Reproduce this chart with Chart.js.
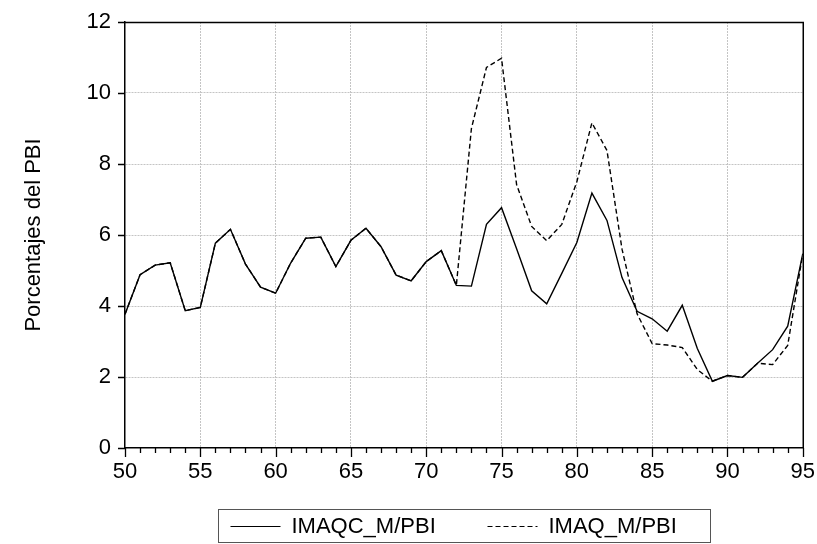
<!DOCTYPE html>
<html>
<head>
<meta charset="utf-8">
<script src="https://cdn.jsdelivr.net/npm/chart.js@4/dist/chart.umd.min.js"></script>
<style>
  html, body { margin: 0; padding: 0; background: #fff; }
</style>
</head>
<body>
<canvas id="chart" width="817" height="544"></canvas>
<script>
// years 1950-1995, two digit labels
const years = [50, 51, 52, 53, 54, 55, 56, 57, 58, 59,
               60, 61, 62, 63, 64, 65, 66, 67, 68, 69,
               70, 71, 72, 73, 74, 75, 76, 77, 78, 79,
               80, 81, 82, 83, 84, 85, 86, 87, 88, 89,
               90, 91, 92, 93, 94, 95];

const imaqcM = [3.77, 4.88, 5.15, 5.22, 3.87, 3.96, 5.77, 6.16, 5.18, 4.53,
                4.36, 5.21, 5.91, 5.94, 5.11, 5.85, 6.19, 5.67, 4.87, 4.71,
                5.25, 5.56, 4.58, 4.56, 6.30, 6.77, 5.61, 4.43, 4.06, 4.92,
                5.79, 7.18, 6.41, 4.80, 3.85, 3.64, 3.29, 4.02, 2.80, 1.88,
                2.04, 1.99, 2.39, 2.77, 3.43, 5.47];

const imaqM = [3.77, 4.88, 5.15, 5.22, 3.87, 3.96, 5.77, 6.16, 5.18, 4.53,
               4.36, 5.21, 5.91, 5.94, 5.11, 5.85, 6.19, 5.67, 4.87, 4.71,
               5.25, 5.56, 4.58, 9.00, 10.72, 10.98, 7.42, 6.24, 5.84, 6.30,
               7.50, 9.16, 8.38, 5.60, 3.78, 2.94, 2.90, 2.83, 2.21, 1.88,
               2.04, 1.99, 2.39, 2.35, 2.89, 5.47];

const seriesNames = ['IMAQC_M/PBI', 'IMAQ_M/PBI'];
const yAxisTitle = 'Porcentajes del PBI';
const yMin = 0, yMax = 12, yStep = 2;
const xMin = 50, xMax = 95, xLabelStep = 5;

const FONT = '"Liberation Sans", Arial, sans-serif';
const GRID = '#c4c4c4';

const toPoints = vals => years.map((yr, i) => ({ x: yr, y: vals[i] }));

const isMajor = v => v % xLabelStep === 0;

// top/right frame, year ticks under the x axis, and the boxed legend
const framePlugin = {
    id: 'frame',
    afterDraw(chart) {
        const { ctx, chartArea: a, scales } = chart;
        const xs = scales.x;
        const ys = scales.y;
        ctx.save();
        ctx.strokeStyle = '#000';
        ctx.lineWidth = 1.5;
        ctx.beginPath();
        ctx.moveTo(a.left, a.top + 0.5);
        ctx.lineTo(a.right + 0.5, a.top + 0.5);
        ctx.lineTo(a.right + 0.5, a.bottom);
        ctx.stroke();

        const base = Math.round(a.bottom);
        ctx.lineWidth = 1.3;
        ctx.beginPath();
        years.forEach(v => {
            const px = Math.round(xs.getPixelForValue(v)) + 0.5;
            ctx.moveTo(px, base);
            ctx.lineTo(px, base + (isMajor(v) ? 9 : 5));
        });
        ys.ticks.forEach(t => {
            const py = Math.round(ys.getPixelForValue(t.value)) + 0.5;
            ctx.moveTo(a.left - 7, py);
            ctx.lineTo(a.left, py);
        });
        ctx.stroke();

        // legend box
        const boxW = 492, boxH = 33;
        const cx = (a.left + a.right) / 2;
        const bx = Math.round(cx - boxW / 2) + 0.5;
        const by = chart.height - 35 + 0.5;
        ctx.lineWidth = 1;
        ctx.strokeStyle = '#555';
        ctx.strokeRect(bx, by, boxW, boxH);

        const midY = Math.round(by + boxH / 2);
        const itemX = [bx + 12, bx + 269];
        ctx.font = '22px ' + FONT;
        ctx.textBaseline = 'middle';
        ctx.fillStyle = '#000';
        chart.data.datasets.forEach((ds, i) => {
            ctx.strokeStyle = ds.borderColor;
            ctx.lineWidth = 1.2;
            ctx.setLineDash(ds.borderDash || []);
            ctx.beginPath();
            ctx.moveTo(itemX[i], midY + 0.5);
            ctx.lineTo(itemX[i] + 50, midY + 0.5);
            ctx.stroke();
            ctx.setLineDash([]);
            ctx.fillText(ds.label, itemX[i] + 61, midY + 1);
        });
        ctx.restore();
    }
};

new Chart(document.getElementById('chart'), {
    type: 'line',
    data: {
        datasets: [{
            label: seriesNames[0],
            data: toPoints(imaqcM),
            borderColor: '#000',
            borderWidth: 1.4,
            pointRadius: 0,
            tension: 0
        }, {
            label: seriesNames[1],
            data: toPoints(imaqM),
            borderColor: '#000',
            borderWidth: 1.4,
            borderDash: [5, 3],
            pointRadius: 0,
            tension: 0
        }]
    },
    options: {
        responsive: false,
        devicePixelRatio: 1,
        animation: false,
        layout: { padding: { top: 22, right: 14, bottom: 56, left: 0 } },
        plugins: {
            legend: { display: false },
            tooltip: { enabled: false }
        },
        scales: {
            x: {
                type: 'linear',
                min: xMin,
                max: xMax,
                afterFit(scale) { scale.height = 40; },
                ticks: {
                    stepSize: 1,
                    autoSkip: false,
                    maxRotation: 0,
                    padding: 2,
                    color: '#000',
                    font: { family: FONT, size: 22 },
                    callback: v => isMajor(v) ? String(v) : ''
                },
                grid: {
                    color: c => (c.tick && isMajor(c.tick.value) && c.tick.value > xMin && c.tick.value < xMax) ? GRID : 'transparent',
                    tickColor: 'transparent',
                    tickLength: 9,
                    lineWidth: 1
                },
                border: { display: true, color: '#000', width: 1.5, dash: [2, 1] }
            },
            y: {
                min: yMin,
                max: yMax,
                afterFit(scale) { scale.width = 125; },
                ticks: {
                    stepSize: yStep,
                    padding: 7,
                    color: '#000',
                    font: { family: FONT, size: 22 }
                },
                grid: {
                    color: c => (c.tick && c.tick.value > yMin && c.tick.value < yMax) ? GRID : 'transparent',
                    tickColor: 'transparent',
                    tickLength: 7,
                    lineWidth: 1
                },
                border: { display: true, color: '#000', width: 1.5, dash: [2, 1] },
                title: {
                    display: true,
                    text: yAxisTitle,
                    color: '#000',
                    font: { family: FONT, size: 22 },
                    padding: { top: 21, bottom: 0 }
                }
            }
        }
    },
    plugins: [framePlugin]
});
</script>
</body>
</html>
